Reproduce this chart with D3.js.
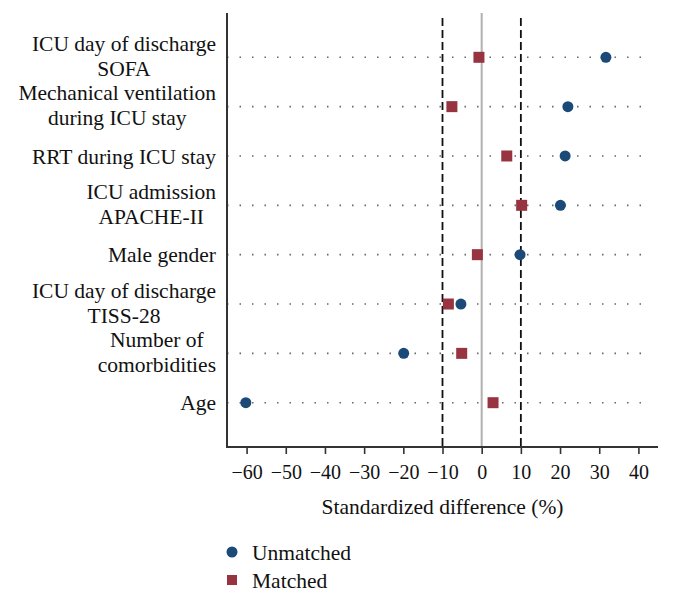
<!DOCTYPE html>
<html><head><meta charset="utf-8">
<script src="https://cdn.jsdelivr.net/npm/d3@7"></script>
<style>body{margin:0;background:#fff}svg{display:block}text{font-family:"Liberation Serif","DejaVu Serif",serif;fill:#111}</style>
</head><body><svg id="c" width="673" height="600"></svg>
<script>
const categories = [
  ["ICU day of discharge","SOFA"],
  ["Mechanical ventilation","during ICU stay"],
  ["RRT during ICU stay"],
  ["ICU admission","APACHE-II"],
  ["Male gender"],
  ["ICU day of discharge","TISS-28"],
  ["Number of","comorbidities"],
  ["Age"]
];
const unmatched = [31.7, 22.0, 21.3, 20.1, 9.8, -5.3, -19.9, -60.2];
const matched   = [-0.7, -7.6, 6.4, 10.2, -1.1, -8.5, -5.1, 2.9];
const xTicks = [-60,-50,-40,-30,-20,-10,0,10,20,30,40];
const seriesNames = ["Unmatched","Matched"];
const colors = ["#1b4a78","#973440"];

const svg = d3.select("#c");
const x = d3.scaleLinear().domain([-65,45]).range([227,658]);
const y = d3.scalePoint().domain(d3.range(categories.length)).range([57.3,402.7]);
const plotTop = 13, plotBottom = 447;

// dotted row lines
svg.append("g").selectAll("line").data(categories).join("line")
  .attr("x1", x(-65)).attr("x2", x(41.5))
  .attr("y1",(d,i)=>y(i)).attr("y2",(d,i)=>y(i))
  .attr("stroke","#666").attr("stroke-width",1.6)
  .attr("stroke-dasharray","1.5 11");

// zero line
svg.append("line").attr("x1",x(0)).attr("x2",x(0)).attr("y1",plotTop).attr("y2",plotBottom)
  .attr("stroke","#b0b0b0").attr("stroke-width",2);
// dashed +/-10
svg.append("g").selectAll("line").data([-10,10]).join("line")
  .attr("x1",d=>x(d)).attr("x2",d=>x(d)).attr("y1",18).attr("y2",plotBottom)
  .attr("stroke","#111").attr("stroke-width",1.8).attr("stroke-dasharray","8 4");

// y axis line
svg.append("line").attr("x1",227).attr("x2",227).attr("y1",plotTop).attr("y2",plotBottom+1)
  .attr("stroke","#333").attr("stroke-width",2);

// x axis
const xa = svg.append("g").attr("transform",`translate(0,${plotBottom})`)
  .call(d3.axisBottom(x).tickValues(xTicks).tickSize(7).tickPadding(11)
    .tickFormat(d=>d<0?"\u2212"+Math.abs(d):d));
xa.select(".domain").attr("stroke","#333").attr("stroke-width",2).attr("d",`M${x(-65)},0H${x(45)}`);
xa.selectAll(".tick line").attr("stroke","#333").attr("stroke-width",1.6);
xa.selectAll(".tick text").attr("font-size",20).attr("font-family","Liberation Serif").attr("fill","#111");

svg.append("text").attr("x",(x(-65)+x(45))/2).attr("y",514).attr("text-anchor","middle")
  .attr("font-size",21.5).text("Standardized difference (%)");

// category labels
const lab = svg.append("g").selectAll("text").data(categories).join("text")
  .attr("text-anchor","end").attr("font-size",21.5)
  .attr("transform",(d,i)=>`translate(216,${y(i)})`);
lab.each(function(d){
  const t = d3.select(this);
  const n = d.length, lh = 25;
  d.forEach((s,k)=>{
    const cy = n>1 ? (k-(n-1)/2)*lh - 1.5 : 0;
    t.append("tspan").attr("x", 0).attr("y", cy).attr("dy","0.35em")
      .attr("text-anchor", n>1 ? "middle" : "end")
      .text(s);
  });
});
// center two-line labels on longest line
lab.each(function(d){
  if(d.length<2) return;
  const t = d3.select(this);
  const w = [];
  t.selectAll("tspan").each(function(){ w.push(this.getComputedTextLength()); });
  const mw = Math.max(...w);
  t.selectAll("tspan").attr("x", -mw/2);
});

// markers
svg.append("g").selectAll("circle").data(unmatched).join("circle")
  .attr("cx",d=>x(d)).attr("cy",(d,i)=>y(i)).attr("r",5.5).attr("fill",colors[0]);
svg.append("g").selectAll("rect").data(matched).join("rect")
  .attr("x",d=>x(d)-5.5).attr("y",(d,i)=>y(i)-5.5).attr("width",11).attr("height",11).attr("fill",colors[1]);

// legend
const lg = svg.append("g");
lg.append("circle").attr("cx",232).attr("cy",552).attr("r",5.5).attr("fill",colors[0]);
lg.append("rect").attr("x",227).attr("y",575).attr("width",10).attr("height",10).attr("fill",colors[1]);
lg.selectAll("text").data(seriesNames).join("text")
  .attr("x",252).attr("y",(d,i)=>552+i*28).attr("dy","0.35em").attr("font-size",21.5).text(d=>d);
</script></body></html>
